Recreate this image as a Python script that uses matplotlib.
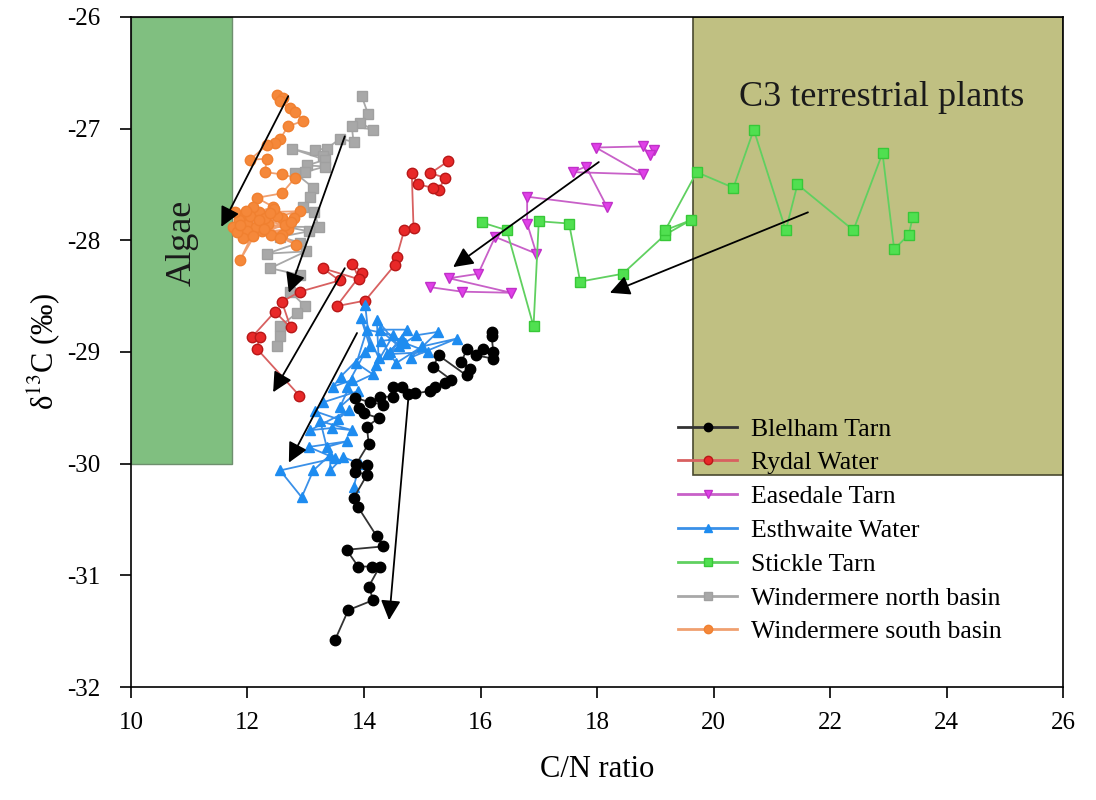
import matplotlib
matplotlib.use("Agg")
import matplotlib.pyplot as plt
from matplotlib.patches import Rectangle

plt.rcParams["font.family"] = ["Liberation Serif", "DejaVu Serif"]
plt.rcParams["mathtext.fontset"] = "stix"
plt.rcParams["axes.unicode_minus"] = False

# ---- data ----
blelham_x = [16.19, 16.19, 16.22, 16.05, 16.22, 15.93, 15.77, 15.67, 15.82, 15.76,
             15.28, 15.19, 15.50, 15.39, 15.22, 15.13, 14.88, 14.76, 14.65, 14.50,
             14.50, 14.27, 14.33, 14.10, 13.85, 13.92, 14.00, 14.25, 14.05, 14.08,
             13.87, 14.05, 13.85, 14.05, 13.82, 13.90, 14.22, 14.33, 13.70, 13.90,
             14.13, 14.27, 14.08, 14.16, 13.73, 13.50]
blelham_y = [-28.82, -28.86, -29.00, -28.97, -29.06, -29.03, -28.97, -29.09, -29.15, -29.21,
             -29.03, -29.13, -29.25, -29.28, -29.31, -29.35, -29.37, -29.38, -29.31, -29.31,
             -29.40, -29.40, -29.47, -29.45, -29.41, -29.50, -29.55, -29.59, -29.67, -29.82,
             -30.00, -30.01, -30.07, -30.10, -30.31, -30.39, -30.65, -30.74, -30.77, -30.92,
             -30.92, -30.92, -31.10, -31.22, -31.31, -31.58]

rydal_x = [15.45, 15.14, 15.39, 15.28, 15.18, 14.93, 14.82, 14.85, 14.69, 14.56,
           14.53, 14.02, 13.53, 13.97, 13.80, 13.92, 13.29, 13.58, 12.90, 12.59,
           12.74, 12.47, 12.07, 12.21, 12.16, 12.89]
rydal_y = [-27.29, -27.40, -27.44, -27.55, -27.53, -27.50, -27.40, -27.89, -27.91, -28.15,
           -28.22, -28.54, -28.59, -28.29, -28.21, -28.35, -28.25, -28.36, -28.46, -28.55,
           -28.78, -28.64, -28.87, -28.87, -28.97, -29.39]

easedale_x = [18.97, 18.91, 18.79, 17.98, 18.79, 17.58, 17.81, 18.17, 16.80, 16.80,
              16.96, 16.25, 15.96, 15.46, 16.53, 15.68, 15.14]
easedale_y = [-27.19, -27.24, -27.16, -27.17, -27.41, -27.39, -27.34, -27.70, -27.61, -27.85,
              -28.12, -27.97, -28.30, -28.34, -28.47, -28.46, -28.42]

esthwaite_x = [14.02, 14.10, 13.95, 14.25, 14.22, 14.60, 14.27, 14.73, 14.45, 14.90,
               15.27, 14.80, 15.59, 15.00, 14.55, 14.30, 14.65, 14.40, 15.10, 14.70,
               14.20, 14.50, 14.05, 13.87, 14.15, 13.70, 14.02, 13.60, 13.47, 13.80,
               13.59, 13.90, 13.30, 13.16, 13.55, 13.75, 13.07, 13.45, 13.80, 13.25,
               13.36, 13.70, 13.05, 13.50, 12.56, 12.93, 13.13, 13.42, 13.42, 13.64,
               13.93, 13.82]
esthwaite_y = [-28.58, -28.95, -28.70, -29.05, -28.71, -28.95, -28.80, -28.80, -29.00, -28.85,
               -28.82, -29.05, -28.88, -28.95, -29.10, -28.90, -28.88, -29.02, -29.00, -28.92,
               -29.12, -28.85, -28.80, -29.10, -29.20, -29.31, -29.00, -29.22, -29.31, -29.25,
               -29.49, -29.35, -29.45, -29.53, -29.60, -29.52, -29.70, -29.68, -29.70, -29.62,
               -29.85, -29.80, -29.85, -29.95, -30.06, -30.30, -30.06, -29.92, -30.06, -29.94,
               -30.00, -30.21]

stickle_x = [16.02, 16.45, 16.91, 17.00, 17.52, 17.71, 18.44, 19.17, 19.61, 19.17,
             19.71, 20.34, 20.69, 21.24, 21.44, 22.40, 22.90, 23.10, 23.35, 23.42]
stickle_y = [-27.84, -27.91, -28.77, -27.83, -27.85, -28.37, -28.30, -27.95, -27.82, -27.91,
             -27.39, -27.53, -27.01, -27.91, -27.50, -27.91, -27.22, -28.08, -27.95, -27.79]

wn_x = [13.96, 14.07, 13.93, 14.16, 13.79, 13.82, 13.59, 13.36, 13.16, 13.30,
        12.76, 13.33, 13.02, 13.33, 12.99, 12.82, 13.13, 13.07, 12.95, 13.15,
        13.22, 12.67, 13.05, 12.56, 12.90, 12.33, 13.00, 12.39, 12.90, 12.73,
        12.99, 12.85, 12.56, 12.56, 12.50]
wn_y = [-26.71, -26.87, -26.95, -27.01, -26.98, -27.12, -27.09, -27.18, -27.19, -27.25,
        -27.18, -27.28, -27.33, -27.34, -27.39, -27.40, -27.53, -27.61, -27.70, -27.75,
        -27.88, -27.88, -27.92, -27.97, -28.02, -28.12, -28.10, -28.25, -28.31, -28.46,
        -28.59, -28.65, -28.77, -28.86, -28.95]

ws_x = [12.50, 12.61, 12.55, 12.73, 12.82, 12.96, 12.70, 12.56, 12.47, 12.33,
        12.04, 12.33, 12.30, 12.59, 12.82, 12.59, 12.16, 12.44, 11.90, 12.20,
        12.90, 12.00, 12.60, 11.80, 12.35, 12.70, 11.95, 12.10, 12.50, 11.85,
        12.25, 12.80, 11.75, 12.40, 12.05, 12.84, 12.15, 11.87, 12.30, 11.78,
        12.60, 12.00, 12.45, 11.92, 12.20, 12.65, 11.82, 12.38, 12.10, 12.75,
        11.98, 12.28, 12.55, 11.88]
ws_y = [-26.70, -26.73, -26.75, -26.82, -26.85, -26.93, -26.98, -27.09, -27.13, -27.15,
        -27.28, -27.27, -27.39, -27.41, -27.44, -27.58, -27.62, -27.70, -27.80, -27.75,
        -27.74, -27.85, -27.80, -27.90, -27.85, -27.90, -27.95, -27.70, -27.78, -27.82,
        -27.92, -27.80, -27.88, -27.95, -27.78, -28.04, -27.88, -28.18, -27.80, -27.75,
        -27.95, -27.92, -27.72, -27.98, -27.82, -27.86, -27.93, -27.76, -27.96, -27.84,
        -27.74, -27.90, -27.98, -27.86]

# arrows: (tail_x, tail_y, head_x, head_y)
arrows = [
    (12.70, -26.71, 11.55, -27.88),
    (13.67, -27.07, 12.71, -28.47),
    (13.67, -28.25, 12.44, -29.36),
    (13.88, -28.83, 12.71, -29.99),
    (14.77, -29.36, 14.43, -31.40),
    (18.03, -27.30, 15.53, -28.24),
    (21.62, -27.75, 18.22, -28.47),
]

fig = plt.figure(figsize=(10.96, 8.0), dpi=100)
ax = fig.add_axes([0.1195, 0.141, 0.8505, 0.838])

ax.add_patch(Rectangle((10, -30), 1.73, 4, facecolor="#80BF80",
                       edgecolor="#6E8F6E", lw=1, zorder=1))
ax.add_patch(Rectangle((19.65, -30.1), 6.35, 4.1, facecolor="#C0C082",
                       edgecolor="#4A4A30", lw=1.2, zorder=1))
ax.text(10.87, -28.02, "Algae", rotation=90, fontsize=26, ha="center",
        va="center", color="#1A1A1A", zorder=2)
ax.text(22.88, -26.72, "C3 terrestrial plants", fontsize=26, ha="center",
        va="center", color="#1A1A1A", zorder=2)

series = [
    ("Blelham Tarn", blelham_x, blelham_y, "o", "#000000", "#000000", "#333333", 7.5, 9),
    ("Rydal Water", rydal_x, rydal_y, "o", "#E82828", "#B81818", "#D86060", 7.5, 6),
    ("Easedale Tarn", easedale_x, easedale_y, "v", "#E040E8", "#C030C8", "#C860C8", 7.5, 8),
    ("Esthwaite Water", esthwaite_x, esthwaite_y, "^", "#1E8CF0", "#1E8CF0", "#3A90E8", 7.5, 7),
    ("Stickle Tarn", stickle_x, stickle_y, "s", "#50E050", "#38C838", "#60D060", 7, 8),
    ("Windermere north basin", wn_x, wn_y, "s", "#A8A8A8", "#A0A0A0", "#A8A8A8", 7, 4),
    ("Windermere south basin", ws_x, ws_y, "o", "#F5883A", "#F08030", "#F0A070", 7.5, 5),
]

handles = []
for label, xs, ys, mk, fc, ec, lc, ms, z in series:
    ax.plot(xs, ys, "-", color=lc, lw=1.3, zorder=z)
    ax.plot(xs, ys, mk, ms=ms, mfc=fc, mec=ec, mew=1, ls="none", zorder=z)
    h, = plt.plot([], [], "-", marker=mk, color=lc, lw=2, ms=6, mfc=fc, mec=ec)
    handles.append((h, label))

for tx, ty, hx, hy in arrows:
    ax.annotate("", xy=(hx, hy), xytext=(tx, ty),
                arrowprops=dict(arrowstyle="-|>", color="black", lw=1.3,
                                mutation_scale=30, shrinkA=0, shrinkB=0),
                zorder=12)

ax.set_xlim(10, 26)
ax.set_ylim(-32, -26)
ax.set_xticks(range(10, 27, 2))
ax.set_yticks(range(-32, -25))
ax.tick_params(direction="out", length=8, width=1.2, labelsize=18,
               top=False, right=False)
ax.tick_params(axis="y", pad=14)
ax.tick_params(axis="x", pad=10)
for s in ax.spines.values():
    s.set_linewidth(1.2)

ax.set_xlabel("C/N ratio", fontsize=22, labelpad=15)
ax.set_ylabel("δ$^{13}$C (‰)", fontsize=22, labelpad=4)

leg = ax.legend([h for h, _ in handles], [l for _, l in handles],
                loc="upper left", bbox_to_anchor=(0.587, 0.402),
                frameon=False, fontsize=18.5, handlelength=2.3,
                handletextpad=0.55, labelspacing=0.42, borderaxespad=0,
                borderpad=0)
leg.set_zorder(13)

fig.savefig("out.png", dpi=100)
